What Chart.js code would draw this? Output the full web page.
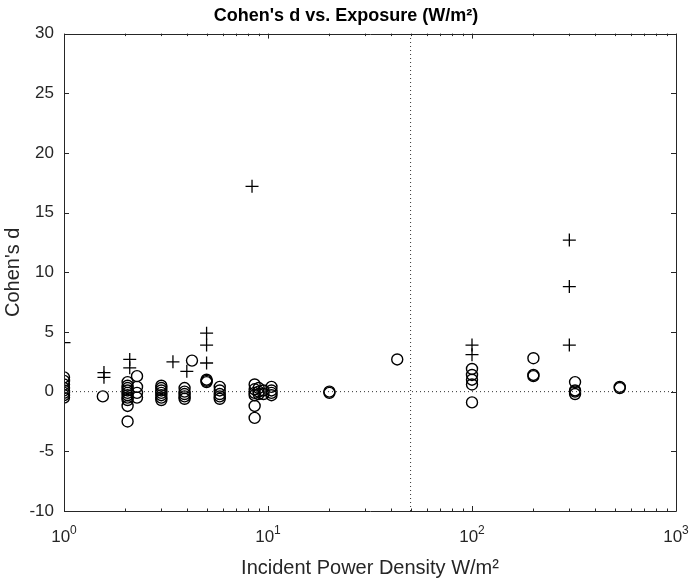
<!DOCTYPE html>
<html>
<head>
<meta charset="utf-8">
<script src="https://cdn.jsdelivr.net/npm/chart.js@4.4.1/dist/chart.umd.min.js"></script>
<style>
  body { margin: 0; background: #fff; }
</style>
</head>
<body>
<canvas id="cohenChart" width="692" height="583"></canvas>
<script>
// values (x = incident power density, y = Cohen's d)
const circ_x = [
  1, 1, 1, 1, 1, 1, 1, 1,
  1.55,
  2.05, 2.05, 2.05, 2.05, 2.05, 2.05, 2.05, 2.05, 2.05, 2.05,
  2.28, 2.28, 2.28, 2.28,
  3, 3, 3, 3, 3, 3, 3,
  3.9, 3.9, 3.9, 3.9, 3.9,
  4.24,
  5, 5, 5,
  5.8, 5.8, 5.8, 5.8, 5.8,
  8.6, 8.6, 8.6, 8.6, 8.6, 8.6,
  9, 9, 9,
  9.5, 9.5,
  10.4, 10.4, 10.4, 10.4,
  20, 20,
  43,
  100, 100, 100, 100, 100,
  200, 200, 200,
  320, 320, 320, 320,
  530, 530
];
const circ_y = [
  1.2, 0.9, 0.6, 0.3, 0.1, -0.1, -0.3, -0.5,
  -0.4,
  0.8, 0.5, 0.3, 0.1, -0.1, -0.3, -0.5, -0.7, -1.2, -2.5,
  1.3, 0.4, -0.1, -0.5,
  0.5, 0.3, 0.1, -0.1, -0.3, -0.5, -0.7,
  0.3, 0.0, -0.2, -0.4, -0.6,
  2.6,
  1.0, 0.9, 0.8,
  0.4, 0.1, -0.2, -0.4, -0.6,
  0.6, 0.2, -0.1, -0.3, -1.2, -2.2,
  0.3, 0.0, -0.2,
  0.1, -0.2,
  0.4, 0.1, -0.1, -0.3,
  0.0, -0.1,
  2.7,
  1.9, 1.4, 1.0, 0.6, -0.9,
  2.8, 1.4, 1.3,
  0.8, 0.1, 0.0, -0.2,
  0.4, 0.3
];
const plus_x = [1, 1.57, 1.57, 2.1, 2.1, 3.42, 4.0, 5, 5, 5, 8.35, 100, 100, 300, 300, 300];
const plus_y = [4.1, 1.6, 1.2, 2.7, 2.0, 2.5, 1.7, 4.9, 3.9, 2.4, 17.2, 3.9, 3.1, 12.7, 8.8, 3.9];

const x_ticks = [1, 10, 100, 1000];
const y_ticks = [-10, -5, 0, 5, 10, 15, 20, 25, 30];
const ref_x = [50];   // dotted vertical line
const ref_y = [0];    // dotted horizontal line

const axisColor = '#262626';
const fontFam = '"Liberation Sans", Arial, Helvetica, sans-serif';

const circ_pts = circ_x.map((v, i) => ({x: v, y: circ_y[i]}));
const plus_pts = plus_x.map((v, i) => ({x: v, y: plus_y[i]}));

// MATLAB style box: inward ticks on all four sides + 10^n labels
const matlabAxes = {
  id: 'matlabAxes',
  afterDatasetsDraw(chart) {
    const ctx = chart.ctx;
    const a = chart.chartArea;
    const xs = chart.scales.x, ys = chart.scales.y;
    ctx.save();
    ctx.strokeStyle = axisColor;
    ctx.lineWidth = 1;
    ctx.beginPath();
    ctx.rect(Math.round(a.left) + 0.5, Math.round(a.top) + 0.5,
             Math.round(a.right - a.left), Math.round(a.bottom - a.top));
    ctx.stroke();

    ctx.beginPath();
    // x ticks (major + log minor)
    for (let d = 0; d < x_ticks.length; d++) {
      const base = x_ticks[d];
      for (let m = 1; m <= 9; m++) {
        const v = base * m;
        if (v > xs.max) break;
        const px = Math.round(xs.getPixelForValue(v)) + 0.5;
        const len = m === 1 ? 5 : 2.5;
        ctx.moveTo(px, a.bottom); ctx.lineTo(px, a.bottom - len);
        ctx.moveTo(px, a.top); ctx.lineTo(px, a.top + len);
      }
    }
    // y ticks
    y_ticks.forEach(v => {
      const py = Math.round(ys.getPixelForValue(v)) + 0.5;
      ctx.moveTo(a.left, py); ctx.lineTo(a.left + 5, py);
      ctx.moveTo(a.right, py); ctx.lineTo(a.right - 5, py);
    });
    ctx.stroke();

    // x tick labels with superscript exponent
    ctx.fillStyle = axisColor;
    ctx.textBaseline = 'alphabetic';
    ctx.textAlign = 'left';
    x_ticks.forEach(v => {
      const px = xs.getPixelForValue(v);
      const exp = String(Math.round(Math.log10(v)));
      ctx.font = '17px ' + fontFam;
      const w1 = ctx.measureText('10').width;
      ctx.font = '12px ' + fontFam;
      const w2 = ctx.measureText(exp).width;
      const x0 = px - (w1 + w2) / 2;
      ctx.font = '17px ' + fontFam;
      ctx.fillText('10', x0, a.bottom + 31);
      ctx.font = '12px ' + fontFam;
      ctx.fillText(exp, x0 + w1, a.bottom + 23);
    });
    ctx.restore();
  }
};

const ctxScatter = document.getElementById('cohenChart').getContext('2d');
const cohenChart = new Chart(ctxScatter, {
  type: 'scatter',
  data: {
    datasets: [
      {
        label: 'ref x',
        data: [{x: ref_x[0], y: y_ticks[0]}, {x: ref_x[0], y: y_ticks[y_ticks.length - 1]}],
        showLine: true,
        borderColor: '#333',
        borderWidth: 1,
        borderDash: [1, 3],
        pointRadius: 0
      },
      {
        label: 'ref y',
        data: [{x: x_ticks[0], y: ref_y[0]}, {x: x_ticks[x_ticks.length - 1], y: ref_y[0]}],
        showLine: true,
        borderColor: '#333',
        borderWidth: 1,
        borderDash: [1, 3],
        pointRadius: 0
      },
      {
        label: 'circles',
        data: circ_pts,
        pointStyle: 'circle',
        pointRadius: 5.5,
        borderColor: '#000',
        backgroundColor: 'rgba(0,0,0,0)',
        borderWidth: 1.4
      },
      {
        label: 'plus',
        data: plus_pts,
        pointStyle: 'cross',
        pointRadius: 6.5,
        borderColor: '#000',
        backgroundColor: '#000',
        borderWidth: 1.3
      }
    ]
  },
  plugins: [matlabAxes],
  options: {
    responsive: false,
    animation: false,
    devicePixelRatio: 1,
    layout: { padding: 0 },
    plugins: {
      legend: { display: false },
      tooltip: { enabled: false },
      title: {
        display: true,
        text: "Cohen's d vs. Exposure (W/m\u00B2)",
        color: '#000',
        font: { family: fontFam, size: 18, weight: 'bold' },
        padding: { top: 5, bottom: 7 }
      }
    },
    scales: {
      x: {
        type: 'logarithmic',
        min: 1,
        max: 1000,
        grid: { display: false },
        border: { display: false },
        ticks: { display: false },
        afterBuildTicks: scale => { scale.ticks = x_ticks.map(v => ({value: v})); },
        afterFit: scale => { scale.height = 72; },
        title: {
          display: true,
          text: 'Incident Power Density W/m\u00B2',
          color: axisColor,
          font: { family: fontFam, size: 20 },
          padding: { top: 0, bottom: 3 }
        }
      },
      y: {
        min: -10,
        max: 30,
        grid: { display: false, drawTicks: false },
        border: { display: false },
        afterBuildTicks: scale => { scale.ticks = y_ticks.map(v => ({value: v})); },
        afterFit: scale => { scale.width = 64; },
        ticks: {
          color: axisColor,
          padding: 10,
          font: { family: fontFam, size: 17 }
        },
        title: {
          display: true,
          text: "Cohen's d",
          color: axisColor,
          font: { family: fontFam, size: 20 },
          padding: { top: 1, bottom: 0 }
        }
      },
      // empty spacer on the right so the plot box ends where the reference does
      yRight: {
        position: 'right',
        display: true,
        grid: { display: false },
        border: { display: false },
        ticks: { display: false },
        afterFit: scale => { scale.width = 16; }
      }
    }
  }
});
</script>
</body>
</html>
